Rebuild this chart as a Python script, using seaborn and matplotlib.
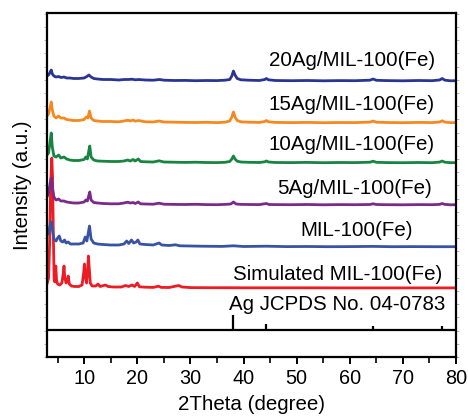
import matplotlib
matplotlib.use("Agg")
import matplotlib.pyplot as plt
from matplotlib.ticker import MultipleLocator, NullFormatter
import seaborn as sns
import pandas as pd

# ---------------- data ----------------
# each pattern: (2theta, intensity above its own baseline, arbitrary units)
pattern_20ag = [(3.0, 5), (3.3, 6), (3.6, 9), (3.8, 11), (4.0, 7), (4.3, 5), (4.7, 4), (5.2, 4.5),
    (5.6, 3.5), (6.2, 4), (6.7, 3), (7.3, 3), (8.0, 2.5), (9.0, 2.5), (10.0, 3), (10.5, 4.5),
    (10.9, 6), (11.3, 4), (11.8, 2.5), (12.5, 2), (13.5, 1.5), (15, 1.5), (16.5, 1), (17.5, 1.5),
    (18.3, 1.5), (19.0, 1.8), (19.6, 1.2), (20.3, 1.5), (21.5, 1), (23, 0.8), (24.2, 1.5), (25, 0.8),
    (27, 0.5), (29, 0.6), (31, 0.3), (33, 0.5), (35, 0.4), (36.5, 0.8), (37.4, 1.5), (37.8, 5),
    (38.1, 10), (38.4, 6), (38.8, 2.5), (39.5, 1.2), (41, 0.8), (43, 0.5), (44.0, 1.5), (44.3, 2.5),
    (44.7, 1.2), (46, 0.5), (49, 0.3), (52, 0.5), (55, 0.2), (58, 0.4), (61, 0.3), (63.8, 0.8),
    (64.4, 2), (65.0, 0.7), (67, 0.4), (70, 0.2), (73, 0.5), (75.5, 0.3), (76.9, 1), (77.4, 2.5),
    (77.9, 0.8), (79, 0.2), (80, 0.3)]

pattern_15ag = [(3.0, 7), (3.3, 9), (3.6, 16), (3.8, 21), (4.0, 13), (4.3, 7), (4.7, 5), (5.2, 7),
    (5.6, 5), (6.2, 5), (6.7, 3.5), (7.3, 3), (8.0, 2.5), (9.0, 2.5), (10.0, 3.5), (10.4, 6),
    (10.7, 5), (11.0, 12), (11.3, 5), (11.8, 2.5), (12.5, 2), (13.5, 1.5), (15, 1.5), (16.5, 1.2),
    (17.5, 2), (18.2, 2.8), (18.7, 2), (19.2, 3), (19.6, 1.8), (20.2, 2.5), (21.5, 1.2), (23, 1),
    (24.1, 2), (25, 1), (27, 0.8), (29, 0.6), (31, 0.5), (33, 0.7), (35, 0.4), (36.5, 0.8),
    (37.4, 2), (37.8, 6), (38.1, 11), (38.4, 6), (38.8, 2.5), (39.5, 1.2), (41, 0.8), (43, 0.6),
    (44.0, 1.5), (44.3, 2.5), (44.7, 1.2), (46, 0.6), (49, 0.4), (52, 0.6), (55, 0.3), (58, 0.5),
    (61, 0.4), (63.8, 0.9), (64.4, 2), (65.0, 0.8), (67, 0.5), (70, 0.3), (73, 0.6), (75.5, 0.4),
    (76.9, 1), (77.4, 2.2), (77.9, 0.9), (79, 0.3), (80, 0.4)]

pattern_10ag = [(3.0, 8), (3.3, 10), (3.6, 22), (3.8, 30), (4.0, 16), (4.3, 7), (4.7, 6), (5.2, 8),
    (5.6, 5), (6.2, 6), (6.7, 4), (7.3, 3), (8.0, 2.5), (9.0, 2.5), (10.0, 3.5), (10.3, 6),
    (10.6, 4), (10.9, 13), (11.05, 17), (11.3, 6), (11.8, 3), (12.5, 2), (13.5, 1.8), (15, 1.5),
    (16.5, 1.5), (17.5, 2), (18.2, 3), (18.7, 2), (19.2, 3.5), (19.6, 2), (20.2, 4), (20.6, 1.5),
    (21.5, 1.2), (23, 1), (24.1, 2.2), (25, 1), (27, 0.8), (29, 0.6), (31, 0.8), (33, 0.5),
    (35, 0.4), (36.5, 0.7), (37.4, 1.5), (37.8, 4), (38.1, 7), (38.4, 4), (38.8, 1.8), (39.5, 1),
    (41, 0.7), (43, 0.5), (44.0, 1.2), (44.3, 2), (44.7, 1), (46, 0.5), (49, 0.4), (52, 0.6),
    (55, 0.3), (58, 0.5), (61, 0.4), (63.8, 0.8), (64.4, 1.8), (65.0, 0.7), (67, 0.4), (70, 0.3),
    (73, 0.5), (75.5, 0.3), (76.9, 0.9), (77.4, 2), (77.9, 0.8), (79, 0.3), (80, 0.4)]

pattern_5ag = [(3.0, 8), (3.3, 12), (3.6, 22), (3.8, 27), (4.0, 18), (4.3, 8), (4.7, 5), (5.2, 6),
    (5.6, 4), (6.2, 4), (6.7, 3), (7.3, 2.5), (8.0, 2), (9.0, 2), (10.0, 3), (10.3, 5), (10.6, 4),
    (10.9, 10), (11.05, 13), (11.3, 5), (11.8, 2.5), (12.5, 2), (13.5, 1.5), (15, 1.2), (16.5, 1.2),
    (17.5, 2), (18.2, 2.8), (18.7, 2), (19.2, 2.5), (19.6, 1.5), (20.2, 3), (20.6, 1.2), (21.5, 1),
    (23, 0.8), (24.1, 1.8), (25, 0.8), (27, 0.6), (29, 0.5), (31, 0.7), (33, 0.4), (35, 0.3),
    (36.5, 0.6), (37.6, 1), (38.1, 3), (38.6, 1), (39.5, 0.6), (41, 0.5), (43, 0.4), (44.3, 1.5),
    (44.8, 0.5), (46, 0.4), (49, 0.3), (52, 0.5), (55, 0.2), (58, 0.4), (61, 0.3), (63.8, 0.5),
    (64.4, 1.2), (65.0, 0.5), (67, 0.3), (70, 0.2), (73, 0.4), (75.5, 0.3), (76.9, 0.6),
    (77.4, 1.5), (77.9, 0.6), (79, 0.2), (80, 0.3)]

pattern_mil = [(3.0, 12), (3.3, 14), (3.6, 22), (3.8, 25), (4.0, 18), (4.3, 8), (4.7, 6), (5.0, 9),
    (5.3, 11), (5.6, 6), (6.0, 5), (6.3, 7), (6.6, 4), (7.0, 5), (7.4, 3), (8.0, 3), (9.0, 3),
    (9.8, 4), (10.2, 10), (10.5, 6), (10.8, 15), (11.0, 21), (11.3, 8), (11.8, 4), (12.5, 3),
    (13.5, 2.5), (15, 2), (16.5, 2), (17.5, 3), (18.0, 6), (18.4, 3.5), (18.9, 7), (19.3, 4),
    (19.8, 5), (20.1, 7), (20.5, 3), (21.5, 2.5), (23, 2), (24.1, 4), (24.6, 2), (26, 1.5),
    (27.2, 2.2), (28, 1.2), (30, 1), (32, 0.8), (34, 0.7), (36, 0.6), (38.1, 1.2), (40, 0.5),
    (44.3, 0.8), (48, 0.4), (52, 0.5), (56, 0.3), (60, 0.4), (64.4, 0.6), (68, 0.3), (72, 0.4),
    (76, 0.3), (80, 0.3)]

pattern_sim = [(3.0, 4), (3.3, 10), (3.5, 45), (3.7, 105), (3.9, 130), (4.05, 110), (4.2, 50),
    (4.35, 8), (4.5, 6), (4.65, 22), (4.8, 8), (5.0, 4), (5.4, 3), (5.8, 5), (6.05, 14), (6.2, 22),
    (6.35, 10), (6.6, 5), (6.85, 8), (7.0, 12), (7.2, 4), (7.6, 2), (8.2, 1.5), (9.0, 1.5),
    (9.6, 3), (9.9, 15), (10.05, 24), (10.25, 10), (10.45, 5), (10.65, 18), (10.8, 32), (10.95, 20),
    (11.15, 5), (11.5, 2), (12.2, 2), (12.6, 4), (13.0, 1.5), (14.0, 3), (14.5, 1.5), (15.5, 1),
    (17, 1), (17.8, 2.5), (18.4, 1.5), (19.0, 3), (19.5, 1.5), (20.0, 5), (20.4, 1.2), (21.5, 0.8),
    (23, 0.6), (24.0, 1.8), (24.5, 0.6), (26, 0.5), (27.8, 2.5), (28.4, 1), (30, 0.4), (33, 0.3),
    (36, 0.3), (40, 0.2), (50, 0.2), (60, 0.1), (70, 0.1), (80, 0.1)]

# Ag reference (JCPDS 04-0783) stick pattern
ag_positions = [38.1, 44.3, 64.4, 77.4]
ag_heights = [15, 6, 4, 4]

series_names = ["Simulated MIL-100(Fe)", "MIL-100(Fe)", "5Ag/MIL-100(Fe)",
                "10Ag/MIL-100(Fe)", "15Ag/MIL-100(Fe)", "20Ag/MIL-100(Fe)"]
series_patterns = [pattern_sim, pattern_mil, pattern_5ag, pattern_10ag, pattern_15ag, pattern_20ag]
series_offsets = [69, 110, 152, 194, 234, 276]
series_colors = ["#ED1C24", "#3953A4", "#7B2A8A", "#17843F", "#F7881F", "#2B3591"]
ag_label = "Ag JCPDS No. 04-0783"
ag_offset = 27

# label positions (2theta of right edge, height)
label_x = [77.5, 71.9, 75.5, 76.0, 76.0, 76.0]
label_y = [82, 127, 169, 212, 252, 297]

# ---------------- build long-form table ----------------
rows = []
for name, pat, off in zip(series_names, series_patterns, series_offsets):
    for i, (x, y) in enumerate(pat):
        rows.append({"sample": name, "order": i, "two_theta": x, "intensity": y + off})
df = pd.DataFrame(rows)

# ---------------- plot ----------------
sns.set_theme(style="ticks")
plt.rcParams["font.family"] = ["Liberation Sans", "DejaVu Sans"]
plt.rcParams["text.color"] = "black"
plt.rcParams["axes.labelcolor"] = "black"
plt.rcParams["xtick.color"] = "black"
plt.rcParams["xtick.labelcolor"] = "black"

fig = plt.figure(figsize=(4.68, 4.16), dpi=100)
ax = fig.add_axes([47 / 468, 59 / 416, (456 - 47) / 468, (357 - 13) / 416])

sns.lineplot(data=df, x="two_theta", y="intensity", hue="sample", hue_order=series_names,
             palette=series_colors, sort=False, estimator=None, units="sample",
             linewidth=2.0, legend=False, ax=ax)

# Ag stick pattern
ax.axhline(ag_offset, color="black", linewidth=1.6, zorder=3)
ax.vlines(ag_positions, ag_offset, [ag_offset + h for h in ag_heights],
          color="black", linewidth=1.6, zorder=3)

fs = 14.8
for name, lx, ly in zip(series_names, label_x, label_y):
    ax.text(lx, ly, name, ha="right", va="center", fontsize=fs, color="black")
ax.text(77.9, 53, ag_label, ha="right", va="center", fontsize=fs, color="black")

ax.set_xlim(3, 80)
ax.set_ylim(0, 344)
ax.set_xticks([10, 20, 30, 40, 50, 60, 70, 80])
ax.xaxis.set_minor_locator(MultipleLocator(5))
ax.set_xlabel("2Theta (degree)", fontsize=fs, labelpad=5, color="black")
ax.set_ylabel("Intensity (a.u.)", fontsize=fs, labelpad=5, color="black")
ax.yaxis.set_major_locator(MultipleLocator(13.2))
ax.yaxis.set_major_formatter(NullFormatter())

for s in ax.spines.values():
    s.set_linewidth(1.6)
    s.set_color("black")
ax.tick_params(axis="x", which="major", direction="out", length=5, width=1.4,
               labelsize=14.3, pad=4, colors="black", labelcolor="black")
ax.tick_params(axis="x", which="minor", direction="out", length=4, width=1.2, colors="black")
ax.tick_params(axis="y", which="major", direction="out", length=2, width=0.6,
               color="#aaaaaa", right=True)

fig.savefig("out.png", dpi=100, facecolor="white")
